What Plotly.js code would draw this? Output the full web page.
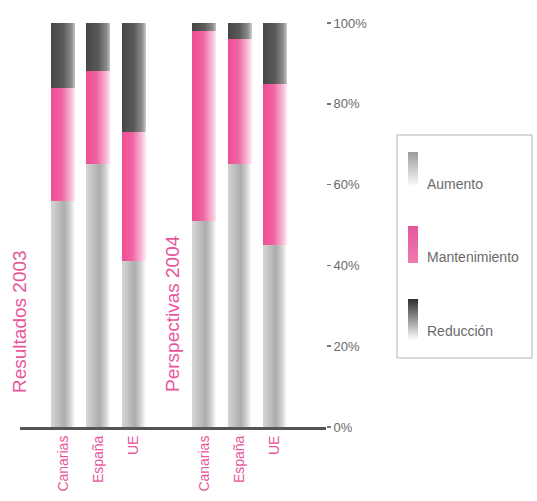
<!DOCTYPE html>
<html>
<head>
<meta charset="utf-8">
<script src="https://cdn.plot.ly/plotly-3.0.1.min.js"></script>
<style>
  html, body { margin: 0; padding: 0; background: #ffffff; }
  #chart { width: 537px; height: 501px; }
</style>
</head>
<body>
<div id="chart"></div>
<script>
// ---- data ----
var groups = ['Resultados 2003', 'Perspectivas 2004'];
var regions = ['Canarias', 'España', 'UE'];
var seriesNames = ['Aumento', 'Mantenimiento', 'Reducción'];
// values per bar: Canarias 2003, España 2003, UE 2003, Canarias 2004, España 2004, UE 2004
var aumento       = [56, 65, 41, 51, 65, 45];
var mantenimiento = [28, 23, 32, 47, 31, 40];
var reduccion     = [16, 12, 27,  2,  4, 15];
var yTickVals = [0, 20, 40, 60, 80, 100];
var yTickText = ['0%', '20%', '40%', '60%', '80%', '100%'];

// ---- build categories (with a blank spacer between the groups) ----
var barKeys = [];
var tickText = [];
groups.forEach(function (g) {
  regions.forEach(function (r) { barKeys.push(r + ' · ' + g); tickText.push(r); });
});
var spacer = ' ';
var categoryOrder = barKeys.slice(0, 3).concat([spacer]).concat(barKeys.slice(3));

var seriesValues = [aumento, mantenimiento, reduccion];
var baseColors = ['#c4c4c4', '#ee5a9c', '#4a4a4a'];
var gradIds = ['gAum', 'gMan', 'gRed'];

var traces = seriesValues.map(function (vals, i) {
  return {
    type: 'bar',
    name: seriesNames[i],
    x: barKeys,
    y: vals,
    width: 0.68,
    marker: { color: baseColors[i], line: { width: 0 } },
    showlegend: false,
    hoverinfo: 'x+y+name'
  };
});

var pink = '#e8559b';
var greyText = '#6a6a6a';

// paper coordinate helpers (plot area 20..326 px wide, 23..427 px tall)
function px(v) { return (v - 20) / 306; }
function py(v) { return (427 - v) / 404; }

var shapes = [
  { type: 'rect', xref: 'paper', yref: 'paper', x0: px(397), x1: px(532), y0: py(358), y1: py(135),
    line: { color: '#b5b5b5', width: 1 }, fillcolor: 'rgba(0,0,0,0)' }
];
var swatchY = [[152, 187], [226, 263], [299, 340]];
var textY = [184, 257, 331];
var annotations = [];
seriesNames.forEach(function (n, i) {
  shapes.push({ type: 'rect', xref: 'paper', yref: 'paper', x0: px(408), x1: px(418),
    y0: py(swatchY[i][1]), y1: py(swatchY[i][0]), line: { width: 0 }, fillcolor: baseColors[i] });
  annotations.push({ xref: 'paper', yref: 'paper', x: px(425), y: py(textY[i]), xanchor: 'left', yanchor: 'middle',
    text: n, showarrow: false, font: { size: 14, color: greyText } });
});
// group labels
annotations.push({ xref: 'paper', yref: 'paper', x: px(19), y: py(322), text: groups[0], textangle: -90,
  showarrow: false, xanchor: 'center', yanchor: 'middle', font: { size: 19, color: pink } });
annotations.push({ xref: 'paper', yref: 'paper', x: px(172), y: py(314), text: groups[1], textangle: -90,
  showarrow: false, xanchor: 'center', yanchor: 'middle', font: { size: 19, color: pink } });

var layout = {
  width: 537,
  height: 501,
  margin: { l: 20, r: 211, t: 23, b: 74, pad: 0 },
  paper_bgcolor: '#ffffff',
  plot_bgcolor: '#ffffff',
  barmode: 'stack',
  font: { family: 'Liberation Sans, Arial, sans-serif', color: greyText },
  xaxis: {
    type: 'category',
    categoryorder: 'array',
    categoryarray: categoryOrder,
    tickvals: barKeys,
    ticktext: tickText,
    range: [-1.22, 7.45],
    tickangle: -90,
    tickfont: { size: 14, color: pink },
    ticks: '',
    showline: true,
    linecolor: '#555555',
    linewidth: 3,
    showgrid: false,
    zeroline: false,
    fixedrange: true
  },
  yaxis: {
    side: 'right',
    range: [0, 100],
    tickmode: 'array',
    tickvals: yTickVals,
    ticktext: yTickText,
    ticks: 'outside',
    ticklen: 4,
    tickwidth: 1.5,
    tickcolor: '#777777',
    tickfont: { size: 13, color: greyText },
    showline: false,
    showgrid: false,
    zeroline: false,
    fixedrange: true
  },
  shapes: shapes,
  annotations: annotations
};

function addGradients() {
  var gd = document.getElementById('chart');
  var svg = gd.querySelector('.main-svg');
  var NS = 'http://www.w3.org/2000/svg';
  var defs = svg.querySelector('defs');
  if (!defs) { defs = document.createElementNS(NS, 'defs'); svg.insertBefore(defs, svg.firstChild); }
  function grad(id, stops, vertical) {
    var g = document.createElementNS(NS, 'linearGradient');
    g.setAttribute('id', id);
    g.setAttribute('x1', '0'); g.setAttribute('y1', '0');
    g.setAttribute('x2', vertical ? '0' : '1'); g.setAttribute('y2', vertical ? '1' : '0');
    stops.forEach(function (s) {
      var st = document.createElementNS(NS, 'stop');
      st.setAttribute('offset', s[0]);
      st.setAttribute('stop-color', s[1]);
      g.appendChild(st);
    });
    defs.appendChild(g);
  }
  grad('gAum', [[0, '#d6d6d6'], [0.55, '#acacac'], [0.8, '#d2d2d2'], [1, '#ffffff']]);
  grad('gMan', [[0, '#ee4e94'], [0.45, '#f064a2'], [0.8, '#f7b3d2'], [1, '#fde8f1']]);
  grad('gRed', [[0, '#464646'], [0.5, '#5a5a5a'], [0.85, '#8c8c8c'], [1, '#c8c8c8']]);
  grad('lAum', [[0, '#9a9a9a'], [1, '#ffffff']], true);
  grad('lMan', [[0, '#e7559b'], [1, '#ee7cb0']], true);
  grad('lRed', [[0, '#2e2e2e'], [1, '#ffffff']], true);

  var traceGroups = svg.querySelectorAll('g.trace.bars');
  traceGroups.forEach(function (tg, i) {
    tg.querySelectorAll('path').forEach(function (p) { p.style.fill = 'url(#' + gradIds[i] + ')'; });
  });
  var legendGrad = ['lAum', 'lMan', 'lRed'];
  var shapePaths = gd.querySelectorAll('.shapelayer path');
  shapePaths.forEach(function (p) {
    var idx = +p.getAttribute('data-index');
    if (idx >= 1 && idx <= 3) {
      var svgOwner = p.ownerSVGElement;
      if (svgOwner !== svg) {
        var d2 = svgOwner.querySelector('defs');
        if (!d2) { d2 = document.createElementNS(NS, 'defs'); svgOwner.insertBefore(d2, svgOwner.firstChild); }
        var src = defs.querySelector('#' + legendGrad[idx - 1]);
        if (src && !svgOwner.querySelector('#' + legendGrad[idx - 1] + 'b')) {
          var c = src.cloneNode(true); c.setAttribute('id', legendGrad[idx - 1] + 'b'); d2.appendChild(c);
        }
        p.style.fill = 'url(#' + legendGrad[idx - 1] + 'b)';
      } else {
        p.style.fill = 'url(#' + legendGrad[idx - 1] + ')';
      }
    }
  });
}

Plotly.newPlot('chart', traces, layout, { displayModeBar: false, staticPlot: true }).then(addGradients);
</script>
</body>
</html>
